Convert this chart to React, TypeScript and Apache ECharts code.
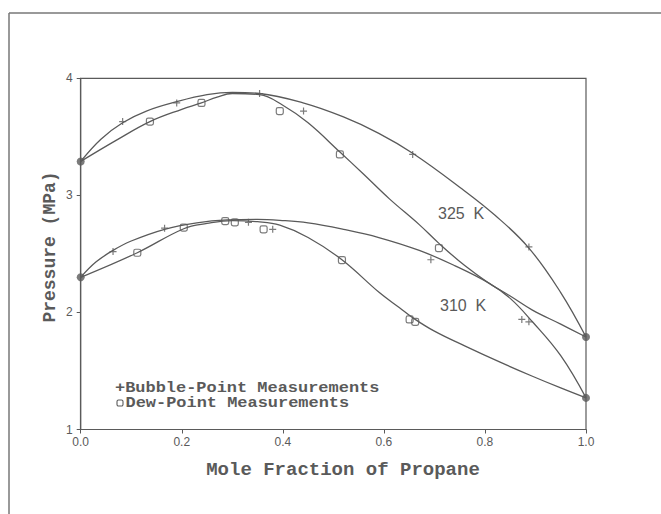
import React, { useEffect, useRef } from "react";
import * as echarts from "echarts";

// Fitted curves (x = mole fraction of propane, y = pressure MPa)
const bubble325Curve: [number, number][] = [
  [0, 3.29], [0.04, 3.48], [0.083, 3.62], [0.13, 3.72], [0.19, 3.8], [0.25, 3.86],
  [0.3, 3.88], [0.354, 3.87], [0.44, 3.79], [0.52, 3.67], [0.59, 3.53], [0.657, 3.36],
  [0.75, 3.07], [0.82, 2.83], [0.887, 2.55], [0.95, 2.17], [1.0, 1.79],
];
const dew325Curve: [number, number][] = [
  [0, 3.29], [0.07, 3.47], [0.137, 3.63], [0.2, 3.735], [0.239, 3.79], [0.27, 3.84],
  [0.3, 3.87], [0.354, 3.86], [0.4, 3.77], [0.45, 3.62], [0.513, 3.37], [0.56, 3.18],
  [0.611, 2.97], [0.67, 2.75], [0.709, 2.59], [0.76, 2.4], [0.808, 2.25], [0.85, 2.14],
  [0.894, 2.02], [0.95, 1.9], [1.0, 1.79],
];
const bubble310Curve: [number, number][] = [
  [0, 2.3], [0.03, 2.43], [0.064, 2.53], [0.1, 2.61], [0.166, 2.71], [0.23, 2.765],
  [0.29, 2.79], [0.35, 2.795], [0.394, 2.787], [0.45, 2.765], [0.52, 2.71], [0.59, 2.64],
  [0.67, 2.53], [0.74, 2.4], [0.808, 2.25], [0.85, 2.12], [0.894, 1.92], [0.95, 1.63],
  [1.0, 1.27],
];
const dew310Curve: [number, number][] = [
  [0, 2.3], [0.112, 2.51], [0.204, 2.715], [0.25, 2.76], [0.3, 2.785], [0.35, 2.775],
  [0.394, 2.745], [0.45, 2.64], [0.517, 2.45], [0.591, 2.17], [0.631, 2.04], [0.657, 1.955],
  [0.7, 1.84], [0.762, 1.71], [0.83, 1.575], [0.894, 1.455], [0.95, 1.355], [1.0, 1.27],
];

// Measurements
const bubblePoints: [number, number][] = [
  [0.083, 3.63], [0.19, 3.79], [0.354, 3.87], [0.441, 3.72], [0.657, 3.35], [0.887, 2.56],
  [0.064, 2.52], [0.166, 2.72], [0.332, 2.77], [0.38, 2.71], [0.693, 2.45], [0.873, 1.94],
  [0.887, 1.92],
];
const dewPoints: [number, number][] = [
  [0.137, 3.63], [0.239, 3.79], [0.394, 3.72], [0.513, 3.35], [0.709, 2.55],
  [0.112, 2.51], [0.204, 2.725], [0.286, 2.78], [0.305, 2.77], [0.362, 2.71], [0.517, 2.447],
  [0.651, 1.94], [0.662, 1.92],
];
const pureComponentPoints: [number, number][] = [
  [0, 3.29], [0, 2.3], [1, 1.79], [1, 1.27],
];

const xTicks = { min: 0, max: 1, step: 0.2 };
const yTicks = { min: 1, max: 4, step: 1 };

const INK = "#5a5a5a";
const MONO = "'Liberation Mono', 'DejaVu Sans Mono', monospace";
const SANS = "'Liberation Sans', Arial, sans-serif";

export default function App() {
  const ref = useRef<HTMLDivElement>(null);
  useEffect(() => {
    if (!ref.current) return;
    const chart = echarts.init(ref.current, undefined, { renderer: "svg" });
    const curve = (data: [number, number][]) => ({
      type: "line",
      data,
      smooth: 0.4,
      showSymbol: false,
      symbol: "none",
      lineStyle: { color: INK, width: 1.3 },
      silent: true,
      z: 2,
    });
    chart.setOption({
      animation: false,
      backgroundColor: "#fff",
      grid: {
        left: 80.7, right: 75, top: 78.3, bottom: 84.5,
        show: true, borderColor: INK, borderWidth: 1.2,
      },
      xAxis: {
        type: "value", min: xTicks.min, max: xTicks.max, interval: xTicks.step,
        axisLine: { show: true, lineStyle: { color: INK, width: 1.2 } },
        axisTick: { show: true, length: 4, lineStyle: { color: INK } },
        axisLabel: {
          formatter: (v: number) => v.toFixed(1), fontFamily: SANS, fontSize: 12,
          color: INK, margin: 6,
        },
        splitLine: { show: false },
      },
      yAxis: {
        type: "value", min: yTicks.min, max: yTicks.max, interval: yTicks.step,
        axisLine: { show: true, lineStyle: { color: INK, width: 1.2 } },
        axisTick: { show: true, length: 4, lineStyle: { color: INK } },
        axisLabel: { fontFamily: SANS, fontSize: 12, color: INK, margin: 8 },
        splitLine: { show: false },
      },
      series: [
        curve(bubble325Curve),
        curve(dew325Curve),
        curve(bubble310Curve),
        curve(dew310Curve),
        {
          type: "scatter", name: "Bubble-Point Measurements", data: bubblePoints,
          symbol: "path://M5,0V10M0,5H10", symbolSize: 7,
          itemStyle: { color: "none", borderColor: INK, borderWidth: 1.2 }, z: 3,
        },
        {
          type: "scatter", name: "Dew-Point Measurements", data: dewPoints,
          symbol: "roundRect", symbolSize: 7,
          itemStyle: { color: "none", borderColor: INK, borderWidth: 1.2 }, z: 3,
        },
        {
          type: "scatter", data: pureComponentPoints, symbol: "circle", symbolSize: 8,
          itemStyle: { color: INK }, z: 4,
        },
      ],
      graphic: [
        { type: "line", shape: { x1: 9, y1: 13, x2: 661, y2: 13 }, style: { stroke: "#777", lineWidth: 1.5 } },
        { type: "line", shape: { x1: 9, y1: 13, x2: 9, y2: 514 }, style: { stroke: "#777", lineWidth: 1.5 } },
        {
          type: "text", x: 343, y: 470,
          style: { text: "Mole Fraction of Propane", font: `bold 19px ${MONO}`, fill: INK, align: "center", verticalAlign: "middle" },
        },
        {
          type: "text", x: 50, y: 247, rotation: Math.PI / 2,
          style: { text: "Pressure (MPa)", font: `bold 18px ${MONO}`, fill: INK, align: "center", verticalAlign: "middle" },
        },
        {
          type: "text", x: 115, y: 388, scaleX: 1.13,
          style: { text: "+Bubble-Point Measurements", font: `bold 15px ${MONO}`, fill: INK, align: "left", verticalAlign: "middle" },
        },
        {
          type: "rect", shape: { x: 117, y: 400, width: 6, height: 6, r: 1.5 },
          style: { fill: "none", stroke: INK, lineWidth: 1.1 },
        },
        {
          type: "text", x: 125.5, y: 403.5, scaleX: 1.13,
          style: { text: "Dew-Point Measurements", font: `bold 15px ${MONO}`, fill: INK, align: "left", verticalAlign: "middle" },
        },
        {
          type: "text", x: 438, y: 213,
          style: { text: "325  K", font: `16px ${SANS}`, fill: INK, align: "left", verticalAlign: "middle" },
        },
        {
          type: "text", x: 440, y: 305,
          style: { text: "310  K", font: `16px ${SANS}`, fill: INK, align: "left", verticalAlign: "middle" },
        },
      ],
    });
    return () => chart.dispose();
  }, []);
  return (
    <div
      ref={ref}
      style={{ position: "fixed", left: 0, top: 0, width: 661, height: 514, background: "#fff" }}
    />
  );
}
